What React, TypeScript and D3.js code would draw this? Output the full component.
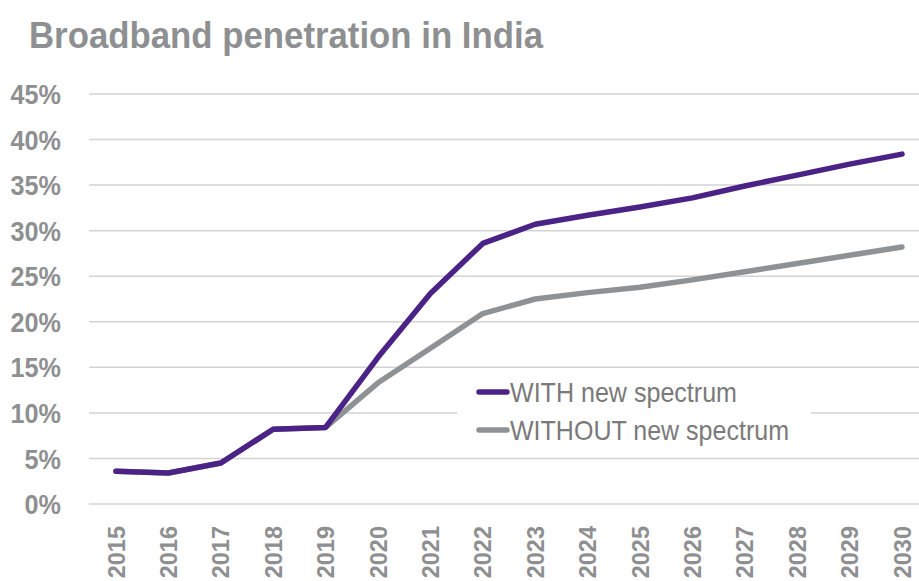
import React from 'react';
import * as d3 from 'd3';

const years = [
  '2015', '2016', '2017', '2018', '2019', '2020', '2021', '2022',
  '2023', '2024', '2025', '2026', '2027', '2028', '2029', '2030',
];
const withSpectrum = [
  3.6, 3.4, 4.5, 8.2, 8.4, 16.1, 23.1, 28.6,
  30.7, 31.7, 32.6, 33.6, 34.9, 36.1, 37.3, 38.4,
];
const withoutSpectrum = [
  3.6, 3.4, 4.5, 8.2, 8.4, 13.3, 17.1, 20.9,
  22.5, 23.2, 23.8, 24.6, 25.5, 26.4, 27.3, 28.2,
];
const yTicks = [0, 5, 10, 15, 20, 25, 30, 35, 40, 45];
const seriesNames = ['WITH new spectrum', 'WITHOUT new spectrum'];

const W = 919;
const H = 581;
const PURPLE = '#4b2387';
const GRAY_LINE = '#8f9295';
const LABEL = '#8e8f91';
const font = 'Liberation Sans, Arial, sans-serif';

const App = () => {
  const x = d3.scalePoint<string>().domain(years).range([116, 902]);
  const y = d3.scaleLinear().domain([0, 45]).range([504, 94]);

  const line = d3
    .line<number>()
    .x((_, i) => x(years[i]) as number)
    .y((d) => y(d));

  const series = [
    { name: seriesNames[1], values: withoutSpectrum, color: GRAY_LINE },
    { name: seriesNames[0], values: withSpectrum, color: PURPLE },
  ];

  return (
    <svg
      width={W}
      height={H}
      style={{ position: 'absolute', left: 0, top: 0, background: '#fff' }}
      fontFamily={font}
    >
      <text
        x={29}
        y={48}
        fontSize={36}
        fontWeight="bold"
        fill={LABEL}
        textLength={514}
        lengthAdjust="spacingAndGlyphs"
      >
        Broadband penetration in India
      </text>

      {/* gridlines */}
      {yTicks.map((t) => (
        <line
          key={t}
          x1={89}
          x2={W}
          y1={y(t)}
          y2={y(t)}
          stroke="#d3d3d3"
          strokeWidth={1.5}
        />
      ))}

      {/* y labels */}
      {yTicks.map((t) => (
        <g key={t} transform={`translate(61,${y(t)}) scale(0.9,1)`}>
          <text
            textAnchor="end"
            dy="0.36em"
            fontSize={28}
            fontWeight="bold"
            fill={LABEL}
          >
            {t}%
          </text>
        </g>
      ))}

      {/* x labels */}
      {years.map((yr) => (
        <text
          key={yr}
          transform={`translate(${(x(yr) as number) + 8.5},526) rotate(-90)`}
          textAnchor="end"
          fontSize={23.5}
          fontWeight="bold"
          fill={LABEL}
        >
          {yr}
        </text>
      ))}

      {/* legend box */}
      <rect x={457} y={369} width={354} height={88} fill="#fff" />

      {series.map((s) => (
        <path
          key={s.name}
          d={line(s.values) || ''}
          fill="none"
          stroke={s.color}
          strokeWidth={5.5}
          strokeLinecap="round"
          strokeLinejoin="round"
        />
      ))}

      {/* legend */}
      {[
        { name: seriesNames[0], color: PURPLE, ly: 392, len: 227 },
        { name: seriesNames[1], color: GRAY_LINE, ly: 430, len: 279 },
      ].map((l) => (
        <g key={l.name}>
          <line
            x1={479}
            x2={507}
            y1={l.ly}
            y2={l.ly}
            stroke={l.color}
            strokeWidth={5.5}
            strokeLinecap="round"
          />
          <text
            x={510}
            y={l.ly + 10}
            fontSize={28}
            fill="#7a7a7a"
            textLength={l.len}
            lengthAdjust="spacingAndGlyphs"
          >
            {l.name}
          </text>
        </g>
      ))}
    </svg>
  );
};

export default App;
